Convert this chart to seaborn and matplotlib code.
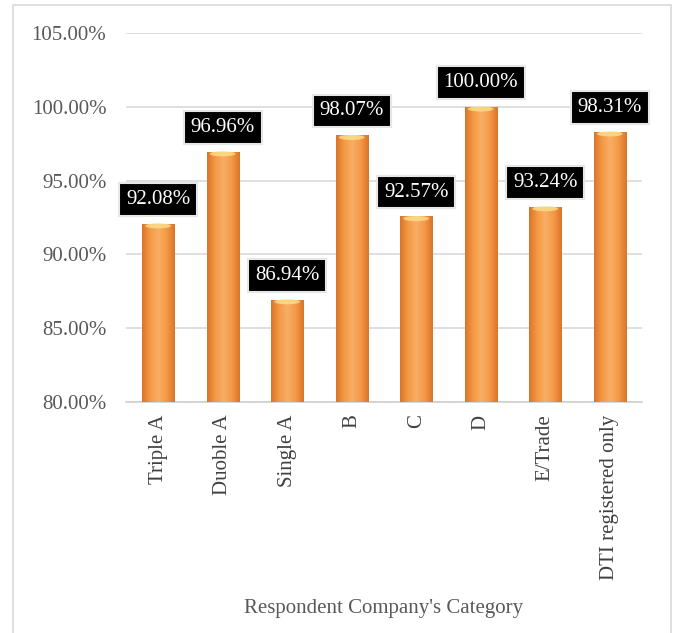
import numpy as np
import pandas as pd
import matplotlib
matplotlib.use("Agg")
import matplotlib.pyplot as plt
from matplotlib.colors import LinearSegmentedColormap
from matplotlib.patches import Rectangle, Ellipse
import seaborn as sns

categories = ["Triple A", "Duoble A", "Single A", "B", "C", "D", "E/Trade", "DTI registered only"]
values = [92.08, 96.96, 86.94, 98.07, 92.57, 100.00, 93.24, 98.31]
y_ticks = [80, 85, 90, 95, 100, 105]
x_title = "Respondent Company's Category"

sns.set_theme(style="white")
plt.rcParams['font.family'] = ['Liberation Serif', 'DejaVu Serif']

df = pd.DataFrame({"cat": categories, "val": values})

fig = plt.figure(figsize=(6.73, 6.33), dpi=100)
ax = fig.add_axes([0.187, 0.365, 0.767, 0.583])

sns.barplot(data=df, x="cat", y="val", color="#F39A42", width=0.5, ax=ax,
            saturation=1, zorder=3, edgecolor="none")

FS = 15
ymin, ymax = 80, 105
ax.set_ylim(ymin, ymax)
ax.set_yticks(y_ticks)
ax.set_yticklabels([f"{t:.2f}%" for t in y_ticks], fontsize=FS, color="#595959")
ax.yaxis.grid(True, color="#D9D9D9", lw=1.2, zorder=0)
ax.set_axisbelow(True)
for s in ["left", "right", "top"]:
    ax.spines[s].set_visible(False)
ax.spines["bottom"].set_color("#D0D0D0")
ax.spines["bottom"].set_linewidth(1.2)
ax.tick_params(axis="both", length=0)
ax.tick_params(axis="y", pad=14)
ax.tick_params(axis="x", pad=9)
ax.set_xticks(range(len(categories)))
ax.set_xticklabels(categories, rotation=90, fontsize=FS, color="#404040", va="top", ha="center")
ax.set_ylabel("")
ax.set_xlabel(x_title, fontsize=FS, color="#595959")
ax.xaxis.set_label_coords(0.5, -0.535)

# cylinder-like gradient for bars
cmap = LinearSegmentedColormap.from_list("cyl", ["#D9752C", "#F59A45", "#F8AE66", "#F59A45", "#D9752C"])
grad = np.linspace(0, 1, 64).reshape(1, -1)
for p in list(ax.patches):
    x0, y0 = p.get_x(), max(p.get_y(), ymin)
    w = p.get_width()
    y1 = p.get_y() + p.get_height()
    im = ax.imshow(grad, cmap=cmap, extent=[x0, x0 + w, y0, y1], aspect="auto",
                   zorder=3.5, origin="lower")
    im.set_clip_path(p)
    ax.add_patch(Ellipse((x0 + w / 2, y1 - 0.15), w * 0.8, 0.35,
                         facecolor="#FBE08A", edgecolor="none", alpha=0.8, zorder=4))
ax.set_xlim(-0.5, len(categories) - 0.5)
ax.set_ylim(ymin, ymax)

for i, v in enumerate(values):
    ax.annotate(f"{v:.2f}%", xy=(i, v), xytext=(0, 17.5), textcoords="offset points",
                ha="center", va="center", fontsize=FS, color="white", zorder=6,
                bbox=dict(boxstyle="square,pad=0.33", facecolor="black", edgecolor="#E6E6E6", lw=1.5))

fig.patches.append(Rectangle((0.0193, -0.01), 0.978, 1.002, transform=fig.transFigure,
                             fill=False, edgecolor="#D9D9D9", lw=1.2))

fig.savefig("out.png", dpi=100)
